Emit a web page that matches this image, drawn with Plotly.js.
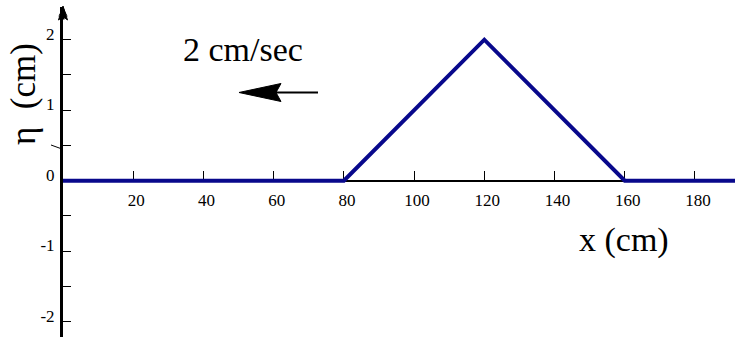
<!DOCTYPE html>
<html>
<head>
<meta charset="utf-8">
<script src="https://cdn.plot.ly/plotly-3.0.1.min.js"></script>
<style>html,body{margin:0;padding:0;background:#fff;}#chart{width:735px;height:337px;}</style>
</head>
<body>
<div id="chart"></div>
<script>
// Data
const xValues = [0, 80, 120, 160, 192];
const etaValues = [0, 0, 2, 0, 0];
const xTickVals = [20, 40, 60, 80, 100, 120, 140, 160, 180];
const xTickText = ['20', '40', '60', '80', '100', '120', '140', '160', '180'];
const yTickVals = [-2, -1.5, -1, -0.5, 0, 0.5, 1, 1.5, 2];
const yTickText = ['-2', '', '-1', '', '0', '', '1', '', '2'];
const xRange = [0, 191.4];
const yRange = [-2.217, 2.464];

const W = 735, H = 337;
const M = {l: 63, r: 0, t: 7, b: 0};
const plotW = W - M.l - M.r, plotH = H - M.t - M.b;
const px = p => (p - M.l) / plotW;       // pixel x -> paper
const py = p => (H - M.b - p) / plotH;   // pixel y -> paper
const pathOf = (pts, close) => pts.map((p, i) => (i ? 'L' : 'M') + px(p[0]).toFixed(5) + ',' + py(p[1]).toFixed(5)).join(' ') + (close ? ' Z' : '');

const FAM = 'Liberation Serif';
const axisZero = (0 - yRange[0]) / (yRange[1] - yRange[0]);

const trace = {
  x: xValues, y: etaValues, type: 'scatter', mode: 'lines',
  line: {color: 'rgb(8,8,140)', width: 4},
  hoverinfo: 'skip', showlegend: false
};

const layout = {
  width: W, height: H,
  margin: M,
  paper_bgcolor: '#fff', plot_bgcolor: '#fff',
  showlegend: false,
  xaxis: {
    range: xRange, anchor: 'free', position: axisZero,
    showgrid: false, zeroline: false,
    showline: true, linecolor: '#000', linewidth: 2,
    tickmode: 'array', tickvals: xTickVals, ticktext: xTickText,
    ticks: 'inside', ticklen: 9, tickwidth: 1, tickcolor: '#000',
    tickfont: {family: FAM, size: 17, color: '#000'},
    ticklabelshift: 3, ticklabelstandoff: 4,
    layer: 'below traces', fixedrange: true
  },
  xaxis2: {
    range: xRange, overlaying: 'x', anchor: 'free', position: axisZero,
    showgrid: false, zeroline: false, showline: false,
    tickmode: 'array', tickvals: xTickVals,
    ticks: 'outside', ticklen: 8, tickwidth: 1, tickcolor: '#000',
    showticklabels: false, layer: 'below traces', fixedrange: true
  },
  yaxis: {
    range: yRange, anchor: 'x',
    showgrid: false, zeroline: false,
    showline: true, linecolor: '#000', linewidth: 3,
    tickmode: 'array', tickvals: yTickVals, ticktext: yTickText,
    ticks: 'inside', ticklen: 8, tickwidth: 1, tickcolor: '#000',
    tickfont: {family: FAM, size: 17, color: '#000'},
    ticklabelstandoff: 2, ticklabelshift: -6,
    layer: 'below traces', fixedrange: true
  },
  shapes: [
    // arrowhead at top of eta axis
    {type: 'path', xref: 'paper', yref: 'paper', layer: 'above',
     path: pathOf([[63, 6], [58.5, 20], [63, 16.5], [67.5, 20]], true),
     fillcolor: '#000', line: {color: '#000', width: 1}},
    // velocity arrow shaft
    {type: 'path', xref: 'paper', yref: 'paper',
     path: pathOf([[269, 92.5], [318, 92.5]], false),
     line: {color: '#000', width: 2}},
    // velocity arrow head
    {type: 'path', xref: 'paper', yref: 'paper',
     path: pathOf([[239, 92.5], [281, 83.5], [276, 92.5], [281, 101.5]], true),
     fillcolor: '#000', line: {color: '#000', width: 1}},
    // small stray stroke near the axis
    {type: 'path', xref: 'paper', yref: 'paper',
     path: pathOf([[51, 145], [62, 149]], false),
     line: {color: '#000', width: 1}}
  ],
  annotations: [
    // arrow tip of the eta axis
    {text: '', xref: 'x', yref: 'y', x: xRange[0], y: yRange[1],
     showarrow: true, ax: 0, ay: 14, arrowhead: 3, arrowsize: 0.55, arrowwidth: 3,
     arrowcolor: '#000', standoff: 0},
    {text: '2 cm/sec', xref: 'paper', yref: 'paper', x: px(243), y: py(50),
     xanchor: 'center', yanchor: 'middle', showarrow: false,
     font: {family: FAM, size: 34, color: '#000'}},
    {text: 'x (cm)', xref: 'paper', yref: 'paper', x: px(624), y: py(240),
     xanchor: 'center', yanchor: 'middle', showarrow: false,
     font: {family: FAM, size: 34, color: '#000'}},
    {text: '\u03B7\u00A0\u00A0(cm)', xref: 'paper', yref: 'paper', x: px(23), y: py(94),
     xanchor: 'center', yanchor: 'middle', showarrow: false, textangle: -90,
     font: {family: FAM, size: 35, color: '#000'}}
  ]
};

Plotly.newPlot('chart', [trace], layout, {staticPlot: true, displayModeBar: false});
</script>
</body>
</html>
